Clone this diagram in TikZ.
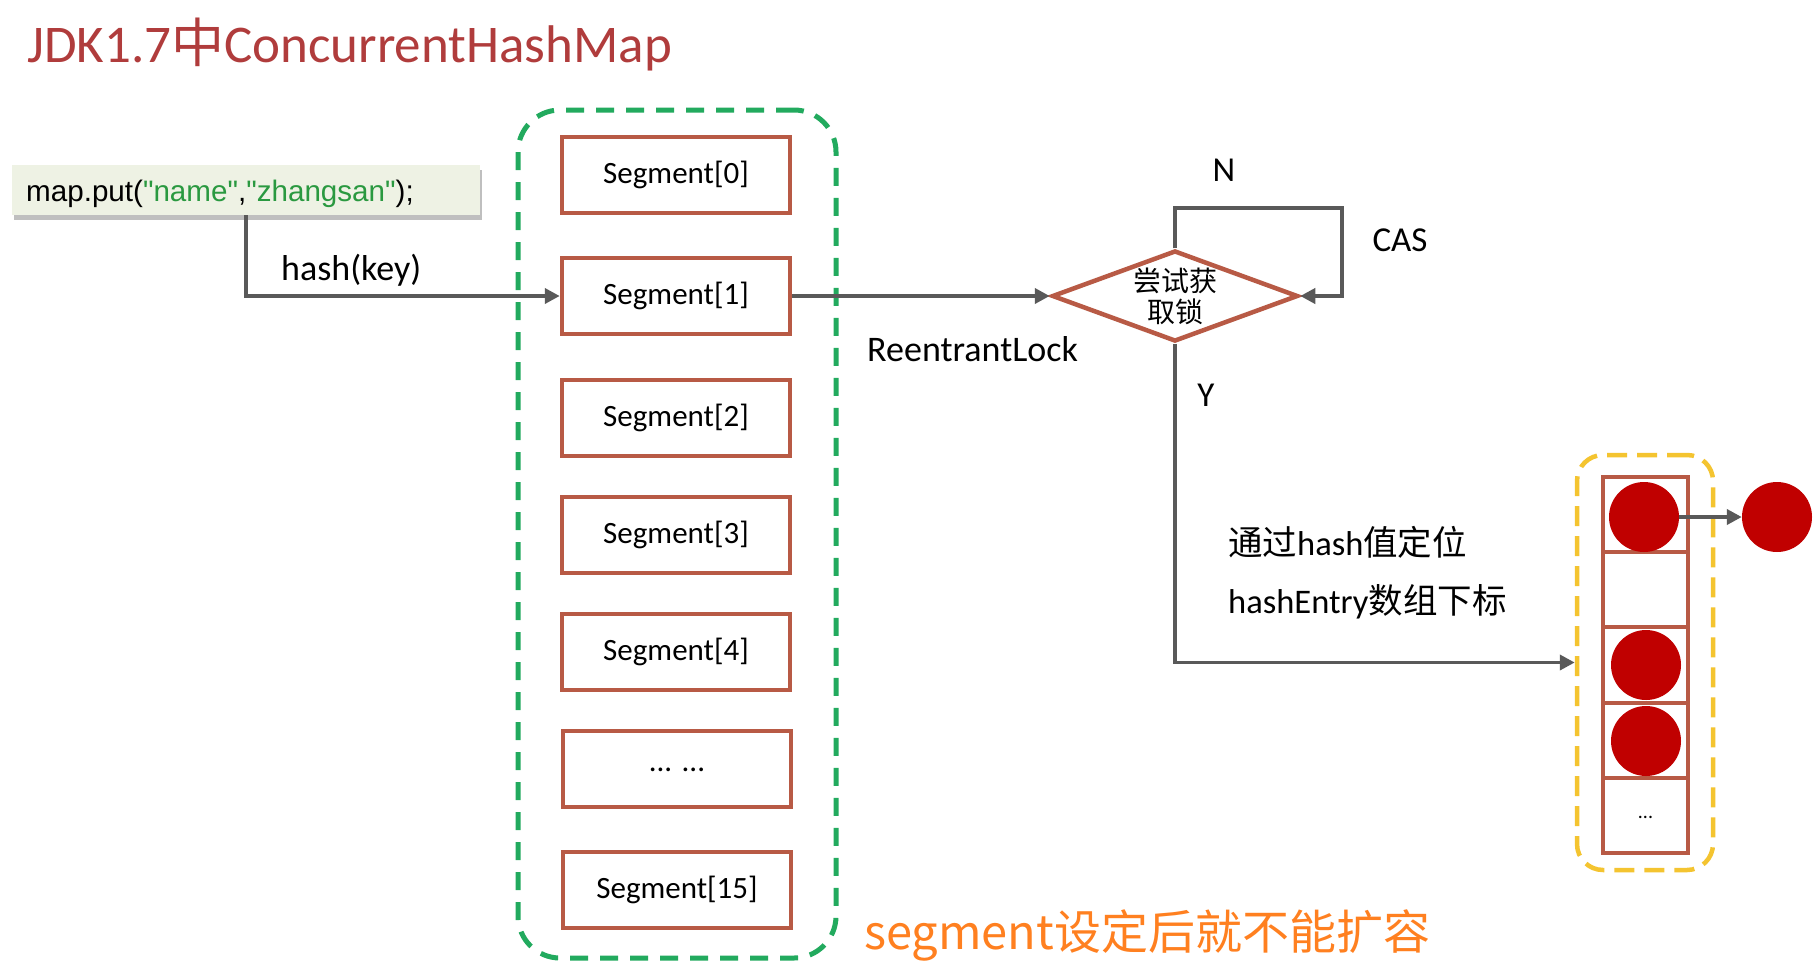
\documentclass[tikz,border=0pt]{standalone}
\usepackage{fontspec}
\setmainfont{Carlito}
\newfontfamily\cjk{Noto Sans CJK SC}
\newfontfamily\codefont{Liberation Sans}
\usetikzlibrary{shapes.geometric,arrows.meta,shadows}
\definecolor{rust}{HTML}{B85A45}
\definecolor{arrgray}{HTML}{595959}
\definecolor{boxgreen}{HTML}{22AA5E}
\definecolor{boxyellow}{HTML}{F4C430}
\definecolor{ballred}{HTML}{C00000}
\definecolor{titlered}{HTML}{B03C3C}
\definecolor{codegreen}{HTML}{2A9940}
\definecolor{codefill}{HTML}{EEF2E4}
\definecolor{noteorange}{HTML}{FF8020}
\tikzset{
  segbox/.style={draw=rust, line width=4.5pt, minimum width=228pt, minimum height=76pt, inner sep=0pt, font=\fontsize{31}{37}\selectfont},
  cellbox/.style={draw=rust, line width=4pt, minimum width=85pt, minimum height=75.2pt, inner sep=0pt},
  ball/.style={circle, fill=ballred, minimum size=70pt, inner sep=0pt},
  arr/.style={draw=arrgray, line width=3.8pt, -{Triangle[length=15pt,width=15pt]}},
  lab/.style={font=\fontsize{35}{42}\selectfont, inner sep=0pt},
}
\begin{document}
\begin{tikzpicture}[x=1pt,y=-1pt]
\useasboundingbox[fill=white] (0,0) rectangle (1820,978);

% title
\node[anchor=base west, inner sep=0pt, text=titlered, font=\fontsize{53}{60}\selectfont] (title) at (27,62) {JDK1.7{\cjk 中}ConcurrentHashMap};

% code box
\node[fill=codefill, minimum width=468pt, minimum height=50pt, inner sep=0pt,
      drop shadow={shadow xshift=2pt, shadow yshift=-5pt, fill=black, opacity=0.25}] (code) at (246,190) {};
\node[anchor=base west, inner sep=0pt, font=\codefont\fontsize{29.6}{34}\selectfont] (codetxt) at (26,201)
  {map.put(\textcolor{codegreen}{"name"},\textcolor{codegreen}{"zhangsan"});};

% segment container
\node[draw=boxgreen, line width=5pt, dash pattern=on 18pt off 12pt, rounded corners=42pt,
      minimum width=318pt, minimum height=848pt, inner sep=0pt] (segs) at (677,534) {};

\node[segbox] (s0) at (676,175) {Segment[0]};
\node[segbox] (s1) at (676,296) {Segment[1]};
\node[segbox] (s2) at (676,418) {Segment[2]};
\node[segbox] (s3) at (676,535) {Segment[3]};
\node[segbox] (s4) at (676,652) {Segment[4]};
\node[segbox] (s5) at (677,769) {\raisebox{-6pt}{... ...}};
\node[segbox] (s15) at (677,890) {Segment[15]};

% hash arrow
\draw[arr] (code.south) |- (s1.west);
\node[lab, anchor=base west, font=\fontsize{36}{42}\selectfont] (hashkey) at (281,280) {hash(key)};

% decision diamond
\node[diamond, draw=rust, line width=4.5pt, minimum width=246pt, minimum height=91pt, inner sep=0pt, fill=white] (dia) at (1175,296) {};
\node[align=center, inner sep=0pt, font=\cjk\fontsize{28}{31}\selectfont] (diatxt) at (1175,296) {尝试获\\取锁};

\draw[arr] (s1.east) -- (dia.west);
\node[lab, anchor=base west, font=\fontsize{36}{42}\selectfont] (rl) at (867,361) {ReentrantLock};

\coordinate (nr) at (1342,208);
\draw[arr] (dia.north) |- (nr) |- (dia.east);
\node[lab] (nlab) at (1224,170) {N};
\node[lab] (caslab) at (1400,240) {CAS};
\node[lab] (ylab) at (1206,395) {Y};

% hash entry array
\node[draw=boxyellow, line width=4.5pt, dash pattern=on 20pt off 10pt, rounded corners=26pt,
      minimum width=136pt, minimum height=415pt, inner sep=0pt] (ybox) at (1645,662.5) {};

\node[cellbox] (c1) at (1645.5,514.6) {};
\node[cellbox] (c2) at (1645.5,589.8) {};
\node[cellbox] (c3) at (1645.5,665.0) {};
\node[cellbox] (c4) at (1645.5,740.2) {};
\node[cellbox, font=\fontsize{20}{24}\selectfont] (c5) at (1645.5,815.4) {\raisebox{-6pt}{...}};

\node[ball] (b1) at (1644,517) {};
\node[ball] (b3) at (1646,665) {};
\node[ball] (b4) at (1646,741) {};
\node[ball] (bo) at (1777,517) {};
\draw[arr] (b1.east) -- (bo.west);

\draw[arr] (dia.south) |- (ybox.west);
\node[lab, anchor=base west, font=\fontsize{34.5}{42}\selectfont] (t1) at (1228,555) {{\cjk 通过}hash{\cjk 值定位}};
\node[lab, anchor=base west, font=\fontsize{34.5}{42}\selectfont] (t2) at (1228,613) {hashEntry{\cjk 数组下标}};

% note
\node[anchor=base west, inner sep=0pt, text=noteorange, font=\cjk\fontsize{47}{54}\selectfont] (note) at (864,949) {segment设定后就不能扩容};
\end{tikzpicture}
\end{document}
